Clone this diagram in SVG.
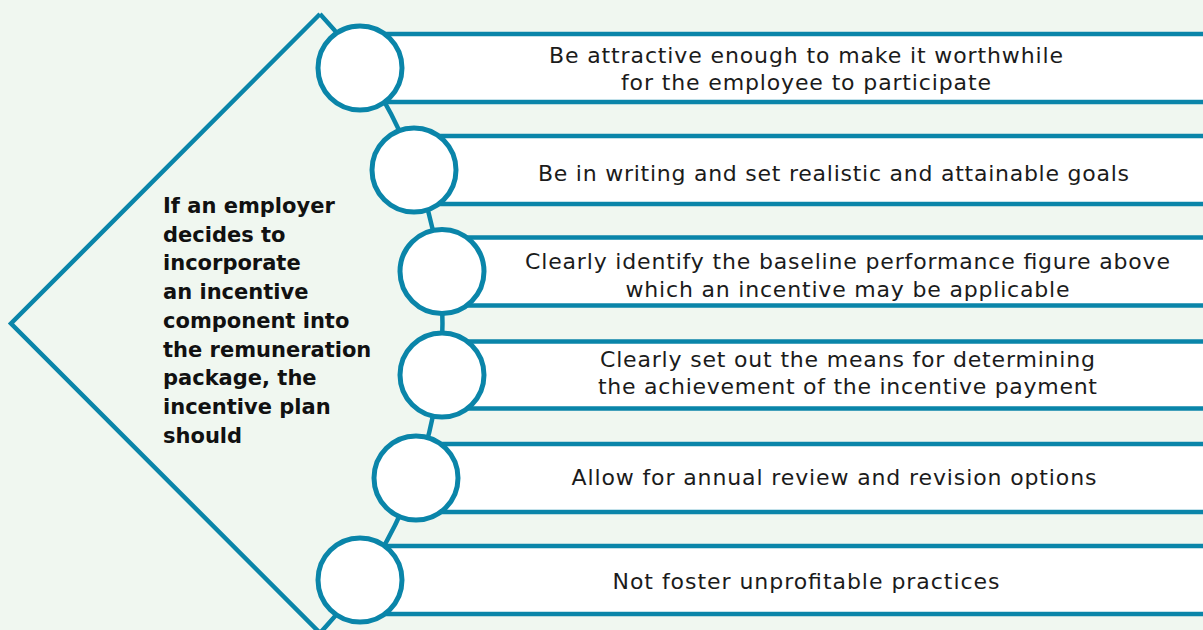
<svg xmlns="http://www.w3.org/2000/svg" width="1203" height="630" viewBox="0 0 1203 630">
  <style>
    .bg { fill: #f0f7f0; }
    .frame { fill: none; stroke: #0a85a9; stroke-width: 4.5; stroke-linejoin: miter; }
    .bar { fill: #ffffff; stroke: #0a85a9; stroke-width: 4.5; }
    .dot { fill: #ffffff; stroke: #0a85a9; stroke-width: 5; }
    .t { font-family: "DejaVu Sans", "Liberation Sans", sans-serif; font-size: 22px; fill: #1b1b1b; text-anchor: middle; }
    .lead { font-family: "DejaVu Sans", "Liberation Sans", sans-serif; font-size: 21px; font-weight: 700; fill: #111111; }
  </style>
  <rect class="bg" x="0" y="0" width="1203" height="630"/>

  <g id="connectors">
    <path class="frame" d="M 320 14 L 11 323.5 L 320 633"/>
    <path class="frame" d="M 320 14 A 452.3 452.3 0 0 1 320 633"/>
  </g>

  <g id="intro">
    <text class="lead" x="163" y="213">If an employer</text>
    <text class="lead" x="163" y="241.7">decides to</text>
    <text class="lead" x="163" y="270.4">incorporate</text>
    <text class="lead" x="163" y="299.1">an incentive</text>
    <text class="lead" x="163" y="327.8">component into</text>
    <text class="lead" x="163" y="356.5">the remuneration</text>
    <text class="lead" x="163" y="385.2">package, the</text>
    <text class="lead" x="163" y="413.9">incentive plan</text>
    <text class="lead" x="163" y="442.6">should</text>
  </g>

  <g id="item1">
    <rect class="bar" x="360" y="34" width="900" height="68"/>
    <circle class="dot" cx="360" cy="68" r="42"/>
    <text class="t" x="806" y="62.7" textLength="514" lengthAdjust="spacing">Be attractive enough to make it worthwhile</text>
    <text class="t" x="806" y="90.3" textLength="370" lengthAdjust="spacing">for the employee to participate</text>
  </g>

  <g id="item2">
    <rect class="bar" x="414" y="136" width="900" height="68"/>
    <circle class="dot" cx="414" cy="170" r="42"/>
    <text class="t" x="833.5" y="180.7" textLength="591" lengthAdjust="spacing">Be in writing and set realistic and attainable goals</text>
  </g>

  <g id="item3">
    <rect class="bar" x="442" y="237.5" width="900" height="68"/>
    <circle class="dot" cx="442" cy="271.5" r="42"/>
    <text class="t" x="847.5" y="269.3" textLength="645" lengthAdjust="spacing">Clearly identify the baseline performance figure above</text>
    <text class="t" x="847.5" y="296.7" textLength="444" lengthAdjust="spacing">which an incentive may be applicable</text>
  </g>

  <g id="item4">
    <rect class="bar" x="442" y="341.5" width="900" height="67"/>
    <circle class="dot" cx="442" cy="375" r="42"/>
    <text class="t" x="847.5" y="367.3" textLength="495" lengthAdjust="spacing">Clearly set out the means for determining</text>
    <text class="t" x="847.5" y="394" textLength="499" lengthAdjust="spacing">the achievement of the incentive payment</text>
  </g>

  <g id="item5">
    <rect class="bar" x="416" y="444" width="900" height="68"/>
    <circle class="dot" cx="416" cy="478" r="42"/>
    <text class="t" x="834" y="485" textLength="525" lengthAdjust="spacing">Allow for annual review and revision options</text>
  </g>

  <g id="item6">
    <rect class="bar" x="360" y="546" width="900" height="68"/>
    <circle class="dot" cx="360" cy="580" r="42"/>
    <text class="t" x="806" y="588.5" textLength="387" lengthAdjust="spacing">Not foster unprofitable practices</text>
  </g>
</svg>
